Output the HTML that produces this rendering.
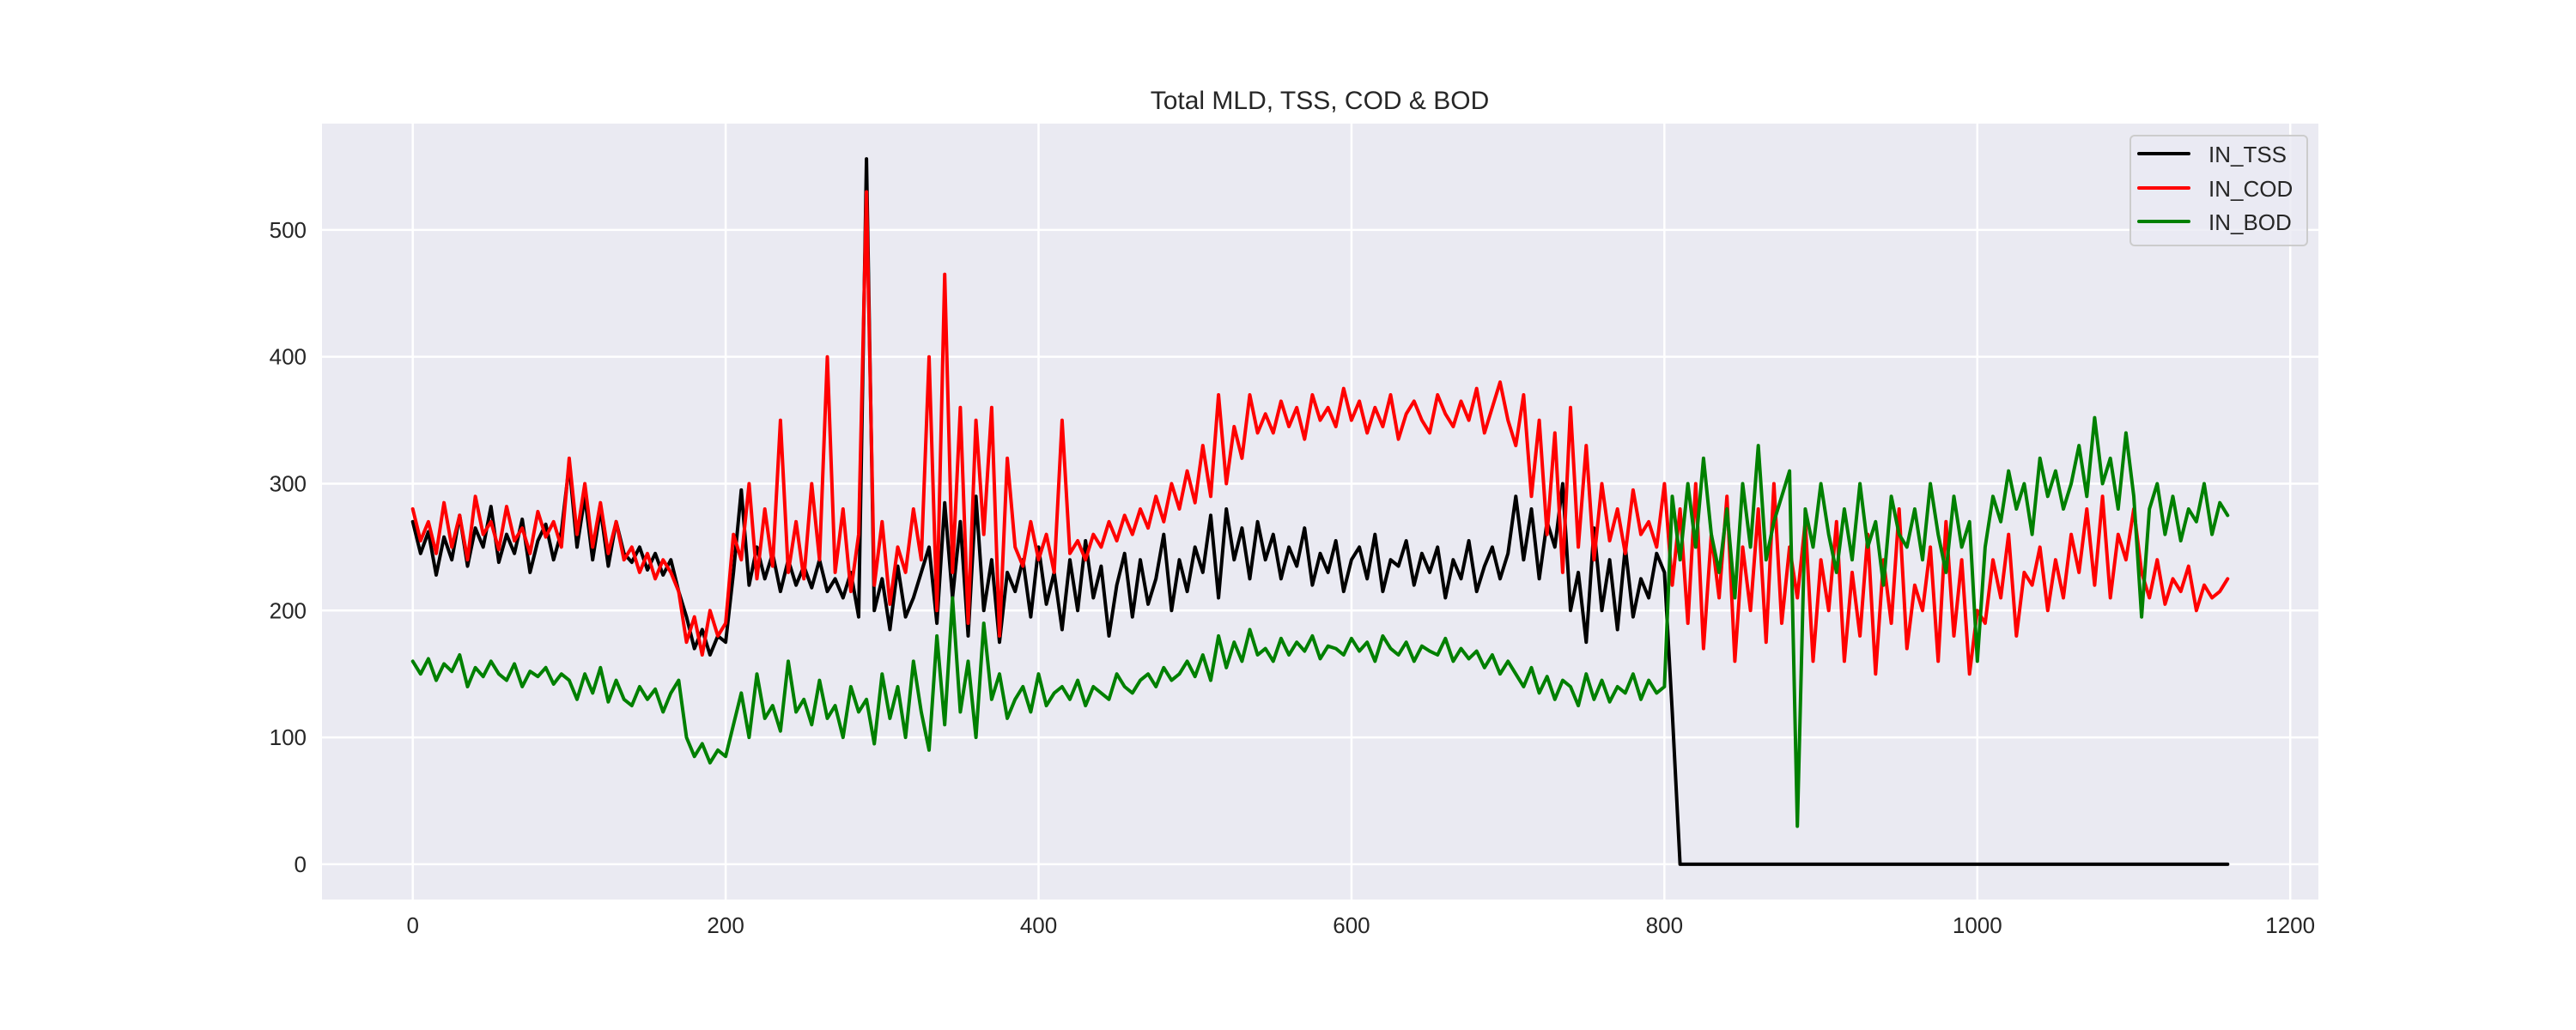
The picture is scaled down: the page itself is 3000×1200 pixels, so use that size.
<!DOCTYPE html>
<html><head><meta charset="utf-8"><style>
html,body{margin:0;padding:0;background:#fff;}
svg{display:block;font-family:"Liberation Sans",sans-serif;}
</style></head><body>
<svg id="chart" width="3000" height="1200" viewBox="0 0 3000 1200" xmlns="http://www.w3.org/2000/svg">
<rect x="375" y="144" width="2325" height="904" fill="#eaeaf2"/>
<g id="grid"></g>
<g id="series"></g>
<g id="ticks"></g>
<text x="1537" y="127" text-anchor="middle" font-size="30" fill="#262626">Total MLD, TSS, COD &amp; BOD</text>
<g>
<rect x="2481" y="158" width="206" height="128" rx="5" fill="#eaeaf2" fill-opacity="0.8" stroke="#cccccc" stroke-width="2"/>
<line x1="2491" y1="179" x2="2549" y2="179" stroke="#000" stroke-width="4" stroke-linecap="round"/>
<text x="2572" y="189" font-size="26" fill="#262626">IN_TSS</text>
<line x1="2491" y1="219" x2="2549" y2="219" stroke="#ff0000" stroke-width="4" stroke-linecap="round"/>
<text x="2572" y="229" font-size="26" fill="#262626">IN_COD</text>
<line x1="2491" y1="258" x2="2549" y2="258" stroke="#008000" stroke-width="4" stroke-linecap="round"/>
<text x="2572" y="268" font-size="26" fill="#262626">IN_BOD</text>
</g>
</svg>
<script>
const xStep = 5;
const xTicks = [0,200,400,600,800,1000,1200];
const yTicks = [0,100,200,300,400,500];
const tss = [270,245,262,228,258,240,275,235,265,250,282,238,260,245,272,230,255,268,240,262,
315,250,290,240,280,235,270,245,
238,250,232,245,228,240,215,
195,170,185,165,180,175,
230,295,220,250,225,245,215,240,220,235,218,240,215,225,210,230,195,
556,
200,225,185,235,195,210,230,
250,190,285,210,270,180,290,200,240,175,230,
215,240,195,250,205,230,185,240,200,255,210,235,180,220,245,195,240,205,225,260,200,240,215,250,
230,275,210,280,240,265,225,270,
240,260,225,250,235,265,220,245,230,255,215,240,250,225,260,215,240,235,255,220,245,230,250,210,240,225,255,215,235,250,225,245,
290,240,280,225,270,250,300,200,
230,175,265,200,240,185,250,195,225,210,245,230,
120,
0,0,0,0,0,0,0,0,0,0,0,0,0,0,0,0,0,0,0,0,0,0,0,0,0,0,0,0,0,0,0,0,0,0,0,0,0,0,0,0,0,0,0,0,0,0,0,0,0,0,0,0,0,0,0,0,0,0,0,0,0,0,0,0,0,0,0,0,0,0,0];
const cod = [280,255,270,245,285,250,275,240,290,260,270,248,282,255,265,245,278,258,270,250,
320,260,300,250,285,245,270,240,
250,230,245,225,240,230,215,
175,195,165,200,180,190,
260,240,300,225,280,235,350,230,270,225,300,240,400,230,280,215,260,
530,
220,270,205,250,230,280,240,
400,200,465,230,360,190,350,260,360,180,320,
250,235,270,240,260,230,350,245,255,240,260,250,270,255,275,260,280,265,290,270,300,280,310,285,
330,290,370,300,345,320,370,340,
355,340,365,345,360,335,370,350,360,345,375,350,365,340,360,345,370,335,355,365,350,340,370,355,345,365,350,375,340,360,380,350,
330,370,290,350,260,340,230,360,
250,330,240,300,255,280,245,295,260,270,250,300,
220,280,190,300,170,260,210,290,160,250,200,280,175,300,190,250,210,270,160,240,
200,270,160,230,180,260,150,240,190,280,170,220,200,250,160,270,180,240,150,200,
190,240,210,260,180,230,220,250,200,240,210,260,
230,280,220,290,210,260,240,280,
230,210,240,205,225,215,235,200,220,210,215,225];
const bod = [160,150,162,145,158,152,165,140,155,148,160,150,145,158,140,152,148,155,142,150,
145,130,150,135,155,128,145,130,
125,140,130,138,120,135,145,
100,85,95,80,90,85,
110,135,100,150,115,125,105,160,120,130,110,145,115,125,100,140,120,
130,
95,150,115,140,100,160,120,
90,180,110,210,120,160,100,190,130,150,115,
130,140,120,150,125,135,140,130,145,125,140,135,130,150,140,135,145,150,140,155,145,150,160,148,
165,145,180,155,175,160,185,165,
170,160,178,165,175,168,180,162,172,170,165,178,168,175,160,180,170,165,175,160,172,168,165,178,160,170,162,168,155,165,150,160,
150,140,155,135,148,130,145,140,
125,150,130,145,128,140,135,150,130,145,135,140,
290,240,300,250,320,260,230,280,210,300,250,330,240,270,290,310,30,280,250,300,
260,230,280,240,300,250,270,220,290,260,250,280,240,300,260,230,290,250,270,160,
250,290,270,310,280,300,260,320,290,310,280,300,
330,290,352,300,320,280,340,290,
195,280,300,260,290,255,280,270,300,260,285,275];

const NS = "http://www.w3.org/2000/svg";
const L = 375, R = 2700, T = 144, B = 1048;
const xMin = -58, xMax = 1218, yMin = -27.8, yMax = 583.8;
function sx(v){ return L + (v - xMin) / (xMax - xMin) * (R - L); }
function sy(v){ return B - (v - yMin) / (yMax - yMin) * (B - T); }

const grid = document.getElementById('grid');
const ticks = document.getElementById('ticks');
xTicks.forEach(t => {
  const ln = document.createElementNS(NS, 'line');
  
  
  ln.setAttribute('x1', sx(t)); ln.setAttribute('x2', sx(t));
  ln.setAttribute('y1', T); ln.setAttribute('y2', B);
  ln.setAttribute('stroke', '#fff'); ln.setAttribute('stroke-width', '2.5');
  grid.appendChild(ln);
  const tx = document.createElementNS(NS, 'text');
  
  
  tx.setAttribute('x', sx(t)); tx.setAttribute('y', 1087);
  tx.setAttribute('text-anchor', 'middle'); tx.setAttribute('font-size', '26');
  tx.setAttribute('fill', '#262626');
  tx.textContent = t;
  ticks.appendChild(tx);
});
yTicks.forEach(t => {
  const ln = document.createElementNS(NS, 'line');
  
  
  ln.setAttribute('x1', L); ln.setAttribute('x2', R);
  ln.setAttribute('y1', sy(t)); ln.setAttribute('y2', sy(t));
  ln.setAttribute('stroke', '#fff'); ln.setAttribute('stroke-width', '2.5');
  grid.appendChild(ln);
  const tx = document.createElementNS(NS, 'text');
  
  
  tx.setAttribute('x', 357); tx.setAttribute('y', sy(t) + 9);
  tx.setAttribute('text-anchor', 'end'); tx.setAttribute('font-size', '26');
  tx.setAttribute('fill', '#262626');
  tx.textContent = t;
  ticks.appendChild(tx);
});

const series = document.getElementById('series');
function drawLine(vals, color, name){
  const d = vals.map((v, i) => (i ? 'L' : 'M') + sx(i * xStep).toFixed(1) + ' ' + sy(v).toFixed(1)).join(' ');
  const p = document.createElementNS(NS, 'path');
  
  
  p.setAttribute('d', d);
  p.setAttribute('fill', 'none');
  p.setAttribute('stroke', color);
  p.setAttribute('stroke-width', '4');
  p.setAttribute('stroke-linejoin', 'round');
  p.setAttribute('stroke-linecap', 'round');
  series.appendChild(p);
}
drawLine(tss, '#000000', 'line-in-tss');
drawLine(cod, '#ff0000', 'line-in-cod');
drawLine(bod, '#008000', 'line-in-bod');
</script>
</body></html>
